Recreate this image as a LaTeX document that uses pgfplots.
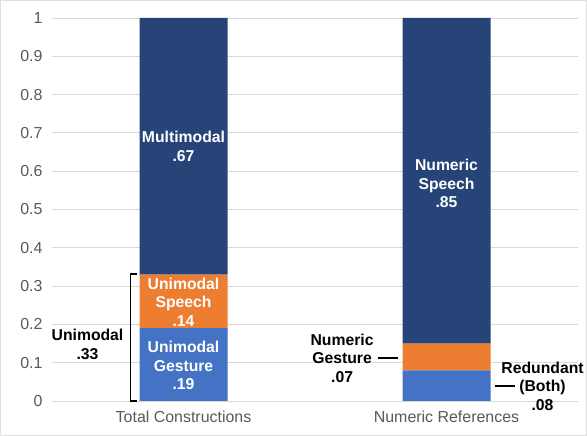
\documentclass[border=0pt]{standalone}
\usepackage{pgfplots}
\pgfplotsset{compat=1.18}
\usepackage{fontspec}
\setmainfont{Liberation Sans}
\definecolor{cblue}{HTML}{4472C4}
\definecolor{corange}{HTML}{ED7D31}
\definecolor{cdark}{HTML}{264478}
\definecolor{tickgray}{HTML}{595959}
\begin{document}
\begin{tikzpicture}[x=1bp,y=1bp]
\useasboundingbox (0,0) rectangle (587,436);
\draw[gray!25, line width=1bp] (0.5,0.5) rectangle (586.5,435.5);
\begin{axis}[
  at={(52bp,35bp)}, anchor=south west,
  scale only axis, width=526bp, height=383bp,
  xmin=-0.5, xmax=1.5, ymin=0, ymax=1,
  ybar stacked, bar width=88bp,
  axis line style={draw=none}, tick style={draw=none},
  ymajorgrids, grid style={color=gray!30, line width=0.8bp},
  ytick={0,0.1,0.2,0.3,0.4,0.5,0.6,0.7,0.8,0.9,1},
  yticklabels={0,0.1,0.2,0.3,0.4,0.5,0.6,0.7,0.8,0.9,1},
  xtick={0,1},
  xticklabels={Total Constructions, Numeric References},
  /pgf/number format/assume math mode=true,
  ticklabel style={font=\fontsize{16}{19}\selectfont, text=tickgray},
  yticklabel style={xshift=-6bp},
  xticklabel style={yshift=-6bp},
  clip=false,
]
\addplot[fill=cblue, draw=none] coordinates {(0,0.19) (1,0.08)};
\addplot[fill=corange, draw=none] coordinates {(0,0.14) (1,0.07)};
\addplot[fill=cdark, draw=none] coordinates {(0,0.67) (1,0.85)};

\coordinate (mm) at (axis cs:0,0.665);
\coordinate (us) at (axis cs:0,0.258);
\coordinate (ug) at (axis cs:0,0.092);
\coordinate (ns) at (axis cs:1,0.568);
\coordinate (b0) at (axis cs:-0.178,0);
\coordinate (b1) at (axis cs:-0.2015,0);
\coordinate (b2) at (axis cs:-0.2015,0.332);
\coordinate (b3) at (axis cs:-0.178,0.332);
\coordinate (u33) at (axis cs:-0.365,0.148);
\coordinate (ng) at (axis cs:0.603,0.112);
\coordinate (ng0) at (axis cs:0.738,0.112);
\coordinate (ng1) at (axis cs:0.814,0.112);
\coordinate (rb) at (axis cs:1.365,0.039);
\coordinate (rb0) at (axis cs:1.183,0.039);
\coordinate (rb1) at (axis cs:1.259,0.039);
\end{axis}
\tikzset{lbl/.style={font=\bfseries\fontsize{15.8}{18.5}\selectfont, align=center, inner sep=0pt}}
\node[lbl, text=white] at (mm) {Multimodal\\.67};
\node[lbl, text=white] at (us) {Unimodal\\Speech\\.14};
\node[lbl, text=white] at (ug) {Unimodal\\Gesture\\.19};
\node[lbl, text=white] at (ns) {Numeric\\Speech\\.85};
\draw[black, line width=1.4bp] (b0) -- (b1) -- (b2) -- (b3);
\node[lbl, text=black] at (u33) {Unimodal\\.33};
\node[lbl, text=black] at (ng) {Numeric\\Gesture\\.07};
\draw[black, line width=1.4bp] (ng0) -- (ng1);
\node[lbl, text=black] at (rb) {Redundant\\(Both)\\.08};
\draw[black, line width=1.4bp] (rb0) -- (rb1);
\end{tikzpicture}
\end{document}
